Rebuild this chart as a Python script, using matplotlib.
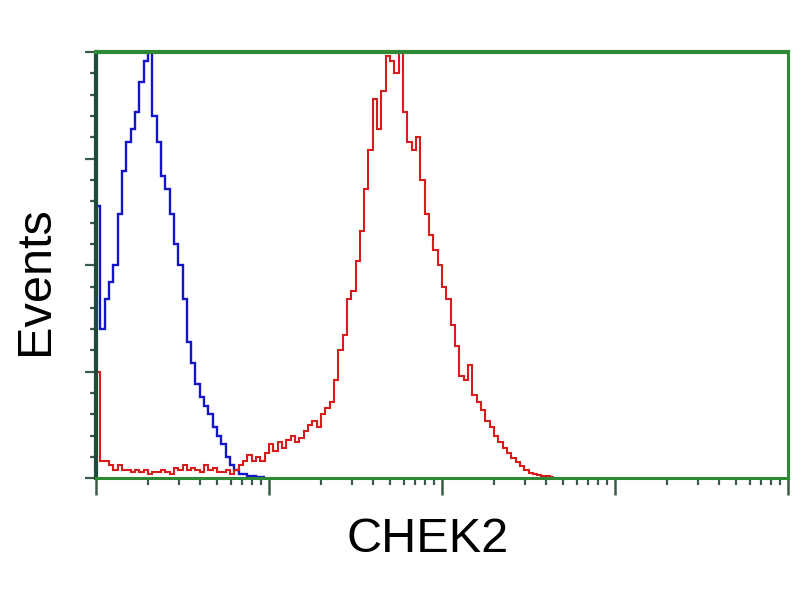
import numpy as np
import matplotlib
matplotlib.use('Agg')
import matplotlib.pyplot as plt
from matplotlib.ticker import LogLocator, MultipleLocator, NullFormatter

plt.rcParams['font.family'] = ['Liberation Sans', 'DejaVu Sans']

# histogram channels: log bins, 0.025 decade wide, starting at 10^0
bin_width = 0.025
# control (isotype) histogram, % of max events
blue_counts = [64, 35, 42, 46, 50, 62, 72, 79, 82, 86,
               93, 98, 100, 85, 79, 71, 68, 62, 55, 50,
               42, 32, 27, 22, 19, 17, 15, 12, 10, 8,
               5, 3, 2, 1, 1, 0.5, 0.5, 0.3, 0.3]
# CHEK2 stained histogram, % of max events
red_counts = [25, 4, 4, 3, 2, 3, 2, 2, 1.5, 2,
              1.5, 2, 1, 1.5, 1.5, 2, 1.5, 1, 2.5, 2,
              3, 2, 2.5, 2, 1.5, 3, 2, 2.5, 1.5, 1.5,
              2, 1, 2, 3, 4, 5.5, 4, 5, 4, 6,
              8, 6.5, 8.5, 7, 9, 10, 8.5, 9.5, 11, 12.5,
              13.5, 12, 15, 16.5, 18, 23, 30, 33.5, 42, 44,
              51, 58, 68, 77, 89, 82, 91, 99, 98, 95,
              100, 86, 79, 77, 80, 70, 62, 57, 53.5, 50,
              45, 42, 36, 31, 24, 23, 26.5, 19.5, 18, 16,
              13.5, 12, 10, 8.5, 7, 6, 4.7, 3.8, 2.8, 1.9,
              1.2, 1, 0.7, 0.5, 0.5, 0.3]

def edges_for(counts):
    return 10 ** (np.arange(len(counts) + 1) * bin_width)

fig = plt.figure(figsize=(8, 6), dpi=100)
ax = fig.add_axes([0.12, 0.203, 0.865, 0.71])

ax.stairs(blue_counts, edges_for(blue_counts), baseline=None, color='#1414c8', lw=1.7)
ax.stairs(red_counts, edges_for(red_counts), baseline=None, color='#d81c1c', lw=1.5)

ax.set_xscale('log')
ax.set_xlim(1, 1e4)
ax.set_ylim(0, 100)

green = '#2f8a36'
for side in ['top', 'right', 'bottom']:
    ax.spines[side].set_color(green)
    ax.spines[side].set_linewidth(2.2)
ax.spines['top'].set_linewidth(3)
ax.spines['left'].set_color('#1e4a3c')
ax.spines['left'].set_linewidth(3)

ax.xaxis.set_major_locator(LogLocator(base=10, numticks=10))
ax.xaxis.set_minor_locator(LogLocator(base=10, subs=np.arange(2, 10), numticks=10))
ax.xaxis.set_major_formatter(NullFormatter())
ax.xaxis.set_minor_formatter(NullFormatter())
ax.yaxis.set_major_locator(MultipleLocator(25))
ax.yaxis.set_minor_locator(MultipleLocator(5))
ax.yaxis.set_major_formatter(NullFormatter())

ax.tick_params(axis='x', which='major', direction='out', length=12, width=1.8, color='#3c5a46')
ax.tick_params(axis='x', which='minor', direction='out', length=5, width=1.6, color='#3c5a46')
ax.tick_params(axis='y', which='major', direction='out', length=8, width=1.6, color='#3c5a46')
ax.tick_params(axis='y', which='minor', direction='out', length=4, width=1.6, color='#3c5a46')

fig.text(0.535, 0.1, 'CHEK2', fontsize=35, ha='center', va='center')
fig.text(0.044, 0.533, 'Events', fontsize=35, rotation=90, ha='center', va='center')

fig.savefig('out.png', dpi=100)
